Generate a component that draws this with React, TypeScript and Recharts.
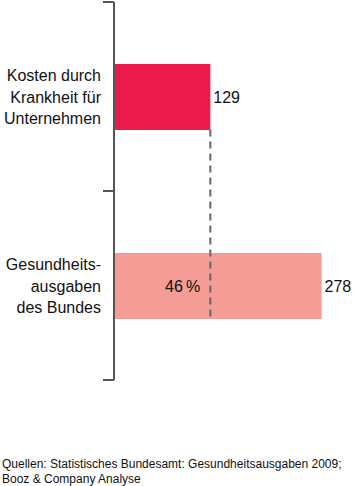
import React from 'react';
import { BarChart, Bar, XAxis, YAxis, Cell, LabelList, ReferenceLine } from 'recharts';

const categories = ['Kosten durch\nKrankheit für\nUnternehmen', 'Gesundheits-\nausgaben\ndes Bundes'];
const values = [129, 278];
const shares = ['', '46\u2009%'];
const colors = ['#EC1A4B', '#F49C95'];
const source = ['Quellen: Statistisches Bundesamt: Gesundheitsausgaben 2009;', 'Booz & Company Analyse'];

const data = categories.map((c, i) => ({ name: c, value: values[i], share: shares[i] }));

const FONT = '"Liberation Sans", Arial, Helvetica, sans-serif';
const AXIS = '#555';
const BAR_SIZE = 66;
const TICK_LEN = 11;

const CatTick = (props: any) => {
  const { x, y, payload, index } = props;
  const half = payload?.offset ?? 0;
  const lines = String(payload.value).split('\n');
  const ax = x;
  const tx = ax - 13;
  return (
    <g>
      {index === 0 && (
        <line x1={ax} x2={ax - TICK_LEN} y1={y - half} y2={y - half} stroke={AXIS} strokeWidth={2} />
      )}
      <line x1={ax} x2={ax - TICK_LEN} y1={y + half} y2={y + half} stroke={AXIS} strokeWidth={2} />
      <text x={tx} y={y} textAnchor="end" fontFamily={FONT} fontSize={16} fill="#111">
        {lines.map((l, i) => (
          <tspan key={i} x={tx} dy={i === 0 ? -(lines.length - 1) * 10.75 + 6.3 : 21.5}>{l}</tspan>
        ))}
      </text>
    </g>
  );
};

const DashShape = (props: any) => {
  const { x1, y1, x2, y2 } = props;
  return (
    <line
      x1={x1}
      x2={x2}
      y1={y1 + BAR_SIZE / 2}
      y2={y2 + BAR_SIZE / 2}
      stroke="#666"
      strokeWidth={2}
      strokeDasharray="7 5"
    />
  );
};

export default function App() {
  return (
    <div style={{ position: 'absolute', left: 0, top: 0, width: 356, height: 486, background: '#fff', fontFamily: FONT }}>
      <BarChart
        width={356}
        height={390}
        data={data}
        layout="vertical"
        margin={{ top: 2, right: 18, bottom: 10, left: 0 }}
        barSize={BAR_SIZE}
      >
        <XAxis type="number" domain={[0, 300]} hide />
        <YAxis
          type="category"
          dataKey="name"
          width={114}
          interval={0}
          tickLine={false}
          tickSize={0}
          tickMargin={0}
          tick={<CatTick />}
          axisLine={{ stroke: AXIS, strokeWidth: 2 }}
        />
        <Bar dataKey="value" isAnimationActive={false}>
          {data.map((d, i) => (
            <Cell key={i} fill={colors[i]} />
          ))}
          <LabelList dataKey="value" position="right" offset={3} fill="#111" fontSize={16} fontFamily={FONT} />
          <LabelList dataKey="share" position="insideLeft" offset={51} fill="#111" fontSize={16} fontFamily={FONT} />
        </Bar>
        <ReferenceLine
          segment={[{ x: values[0], y: categories[0] }, { x: values[0], y: categories[1] }]}
          shape={<DashShape />}
        />
      </BarChart>
      <div style={{ position: 'absolute', left: 2, top: 457, fontSize: 12, lineHeight: '15px', color: '#111' }}>
        {source.map((s, i) => (
          <div key={i}>{s}</div>
        ))}
      </div>
    </div>
  );
}
